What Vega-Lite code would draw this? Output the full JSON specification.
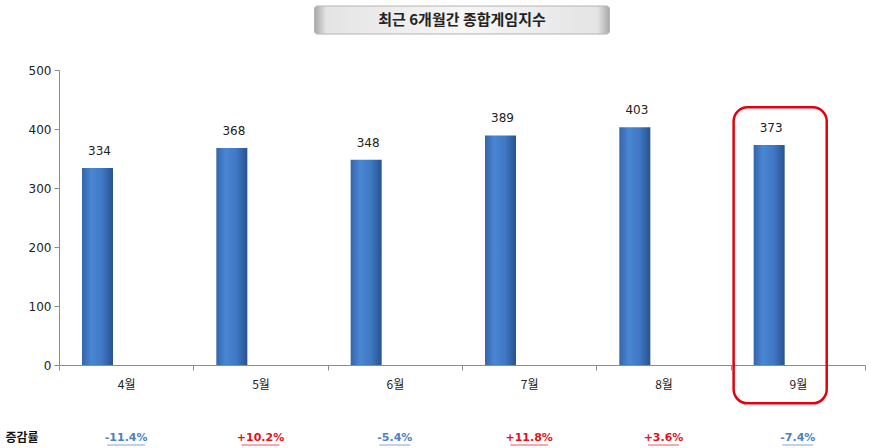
{
  "$schema": "https://vega.github.io/schema/vega-lite/v6.json",
  "padding": {"left": 4, "top": 5, "right": 0, "bottom": 0},
  "config": {
    "view": {"stroke": null},
    "font": "DejaVu Sans, Noto Sans CJK KR, sans-serif",
    "axis": {"labelFont": "DejaVu Sans, Noto Sans CJK KR, sans-serif", "labelColor": "#222222"}
  },
  "datasets": {
    "index": [
      {"month": "4월", "value": 334, "pct": "-11.4%", "series": "종합게임지수", "row": "증감률"},
      {"month": "5월", "value": 368, "pct": "+10.2%", "series": "종합게임지수", "row": "증감률"},
      {"month": "6월", "value": 348, "pct": "-5.4%", "series": "종합게임지수", "row": "증감률"},
      {"month": "7월", "value": 389, "pct": "+11.8%", "series": "종합게임지수", "row": "증감률"},
      {"month": "8월", "value": 403, "pct": "+3.6%", "series": "종합게임지수", "row": "증감률"},
      {"month": "9월", "value": 373, "pct": "-7.4%", "series": "종합게임지수", "row": "증감률"}
    ],
    "heading": [{"title": "최근 6개월간 종합게임지수"}]
  },
  "center": true,
  "bounds": "flush",
  "spacing": 36,
  "vconcat": [
    {
      "width": 295,
      "height": 28,
      "data": {"name": "heading"},
      "layer": [
        {
          "mark": {
            "type": "rect",
            "cornerRadius": 3,
            "stroke": "#b4b4b4",
            "strokeWidth": 1,
            "fill": {
              "gradient": "linear", "x1": 0, "y1": 0, "x2": 1, "y2": 0,
              "stops": [
                {"offset": 0, "color": "#a8a8a8"},
                {"offset": 0.04, "color": "#e4e4e4"},
                {"offset": 0.5, "color": "#f6f6f6"},
                {"offset": 0.96, "color": "#e4e4e4"},
                {"offset": 1, "color": "#a8a8a8"}
              ]
            }
          },
          "encoding": {
            "x": {"value": 0},
            "x2": {"value": "width"},
            "y": {"value": 0},
            "y2": {"value": "height"}
          }
        },
        {
          "mark": {"type": "text", "fontSize": 15, "fontWeight": "bold", "color": "#222222", "font": "Noto Sans CJK KR"},
          "encoding": {"text": {"field": "title"}}
        }
      ]
    },
    {
      "width": 806,
      "height": 295,
      "data": {"name": "index"},
      "encoding": {
        "x": {
          "field": "month",
          "type": "nominal",
          "sort": null,
          "scale": {"paddingInner": 0, "paddingOuter": 0},
          "axis": {
            "title": null,
            "labelAngle": 0,
            "tickBand": "extent",
            "tickSize": 5,
            "labelPadding": 9,
            "labelFontSize": 12,
            "labelFont": "Noto Sans CJK KR",
            "domainColor": "#8c8c8c",
            "tickColor": "#8c8c8c"
          }
        }
      },
      "layer": [
        {
          "mark": {
            "type": "bar",
            "fill": {
              "gradient": "linear", "x1": 0, "y1": 0, "x2": 1, "y2": 0,
              "stops": [
                {"offset": 0, "color": "#3465a8"},
                {"offset": 0.3, "color": "#4a86d4"},
                {"offset": 0.65, "color": "#3f78c4"},
                {"offset": 1, "color": "#28528e"}
              ]
            }
          },
          "encoding": {
            "xOffset": {
              "field": "series",
              "type": "nominal",
              "scale": {"domain": ["종합게임지수", "기타"], "paddingInner": 0.459, "paddingOuter": 0.401}
            },
            "y": {
              "field": "value",
              "type": "quantitative",
              "scale": {"domain": [0, 500], "nice": false},
              "axis": {
                "title": null,
                "values": [0, 100, 200, 300, 400, 500],
                "grid": false,
                "tickSize": 5,
                "labelPadding": 3,
                "labelFontSize": 12,
                "domainColor": "#8c8c8c",
                "tickColor": "#8c8c8c"
              }
            }
          }
        },
        {
          "mark": {"type": "text", "baseline": "bottom", "dy": -10, "dx": 2, "fontSize": 12, "color": "#222222"},
          "encoding": {
            "xOffset": {"field": "series", "type": "nominal"},
            "y": {"field": "value", "type": "quantitative"},
            "text": {"field": "value", "type": "quantitative"}
          }
        },
        {
          "transform": [{"filter": "datum.month == '9월'"}],
          "mark": {
            "type": "rect",
            "filled": false,
            "stroke": "#e3000f",
            "strokeWidth": 2.5,
            "cornerRadius": 14
          },
          "encoding": {
            "x": {"field": "month", "type": "nominal", "sort": null, "bandPosition": 0.022},
            "x2": {"field": "month", "bandPosition": 0.715},
            "y": {"datum": 437},
            "y2": {"datum": -65}
          }
        }
      ]
    },
    {
      "width": 806,
      "height": 74,
      "data": {"name": "index"},
      "encoding": {
        "x": {
          "field": "month",
          "type": "nominal",
          "sort": null,
          "scale": {"type": "band", "paddingInner": 0, "paddingOuter": 0},
          "axis": null
        },
        "y": {
          "field": "row",
          "type": "nominal",
          "axis": {
            "title": null,
            "domain": false,
            "ticks": false,
            "labelPadding": 21,
            "labelFontSize": 12,
            "labelFontWeight": "bold",
            "labelFont": "Noto Sans CJK KR",
            "labelColor": "#111111"
          }
        },
        "color": {
          "condition": {"test": "indexof(datum.pct, '+') == 0", "value": "#e3121b"},
          "value": "#4f7fbf"
        }
      },
      "layer": [
        {
          "mark": {"type": "text", "fontSize": 11, "fontWeight": "bold"},
          "encoding": {"text": {"field": "pct"}}
        },
        {
          "mark": {"type": "tick", "orient": "horizontal", "thickness": 1, "yOffset": 7},
          "encoding": {
            "size": {
              "condition": {"test": "length(datum.pct) > 5", "value": 38},
              "value": 31
            }
          }
        }
      ]
    }
  ]
}
